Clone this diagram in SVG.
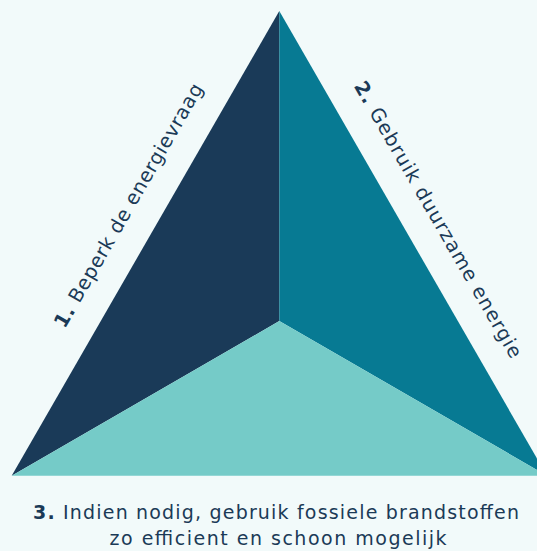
<svg xmlns="http://www.w3.org/2000/svg" width="537" height="551" viewBox="0 0 537 551">
<style>
.lbl{font-family:"DejaVu Sans","Noto Sans","Liberation Sans",sans-serif;font-size:19.5px;fill:#1b3a57}
.b{font-weight:bold}
.cap{font-family:"DejaVu Sans","Noto Sans","Liberation Sans",sans-serif;font-size:19px;fill:#1b3a57;text-anchor:middle}
</style>
<rect width="537" height="551" fill="#f2fafa"/>
<g id="segment1">
<polygon points="279.3,11 279.3,321 11.7,475.7" fill="#1a3a58"/>
<text class="lbl" text-anchor="middle" textLength="278" lengthAdjust="spacing" transform="translate(134.2,208.8) rotate(-60.06)"><tspan class="b">1.</tspan> Beperk de energievraag</text>
</g>
<g id="segment2">
<polygon points="279.3,11 546.9,475.7 279.3,321" fill="#077a93"/>
<text class="lbl" text-anchor="middle" textLength="316" lengthAdjust="spacing" transform="translate(432.4,222.8) rotate(60.06)"><tspan class="b">2.</tspan> Gebruik duurzame energie</text>
</g>
<g id="segment3">
<polygon points="11.7,475.7 279.3,321 546.9,475.7" fill="#75cbc8"/>
<text class="cap" x="276" y="519" textLength="486" lengthAdjust="spacing"><tspan class="b">3.</tspan> Indien nodig, gebruik fossiele brandstoffen</text>
<text class="cap" x="278" y="545" textLength="337" lengthAdjust="spacing">zo efficient en schoon mogelijk</text>
</g>
</svg>
